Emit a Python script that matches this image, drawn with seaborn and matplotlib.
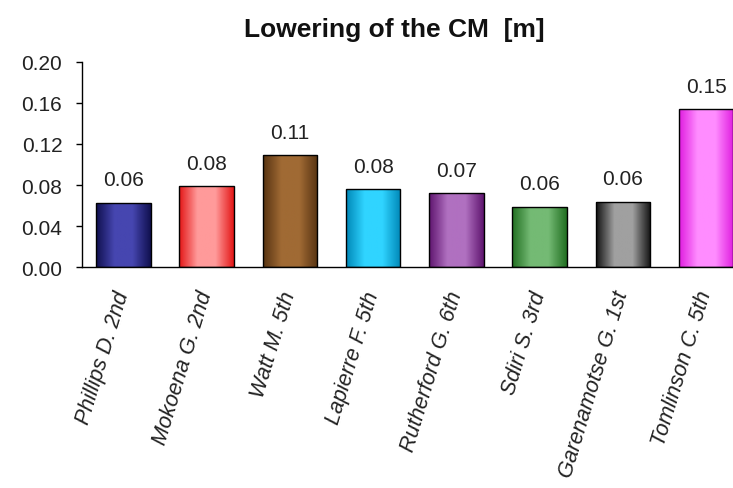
import numpy as np
import pandas as pd
import matplotlib
matplotlib.use("Agg")
import matplotlib.pyplot as plt
from matplotlib.colors import LinearSegmentedColormap
import seaborn as sns

athletes = ["Phillips D. 2nd", "Mokoena G. 2nd", "Watt M. 5th", "Lapierre F. 5th",
            "Rutherford G. 6th", "Sdiri S. 3rd", "Garenamotse G. 1st", "Tomlinson C. 5th"]
lowering = [0.063, 0.079, 0.109, 0.076, 0.072, 0.059, 0.064, 0.154]
edge_colors = ["#101050", "#e41818", "#583412", "#0088b8", "#601670", "#227022", "#141414", "#e01ee0"]
mid_colors = ["#4646b0", "#ff9a9a", "#a06a34", "#30d4ff", "#b070c0", "#74ba74", "#a0a0a0", "#ff8cff"]
yticks = [0.00, 0.04, 0.08, 0.12, 0.16, 0.20]

sns.set_theme(style="white")
plt.rcParams["font.family"] = ["Liberation Sans", "DejaVu Sans"]

df = pd.DataFrame({"athlete": athletes, "lowering": lowering})

fig = plt.figure(figsize=(7.33, 4.89), dpi=100)
ax = fig.add_axes([0.1115, 0.451, 0.9086, 0.421])

sns.barplot(data=df, x="athlete", y="lowering", hue="athlete", palette=edge_colors,
            legend=False, width=0.655, edgecolor="black", linewidth=1.0, ax=ax)

# shaded cylinder-style fill on each bar
profile = np.linspace(0, 1, 64)
for bar, c0, c1 in zip(ax.patches, edge_colors, mid_colors):
    cmap = LinearSegmentedColormap.from_list("shade", [c0, c1, c1, c0], N=256)
    x0, y0 = bar.get_x(), bar.get_y()
    w, h = bar.get_width(), bar.get_height()
    img = ax.imshow(profile[np.newaxis, :], cmap=cmap, aspect="auto",
                    extent=[x0, x0 + w, y0, y0 + h], zorder=bar.get_zorder() + 0.1)
    img.set_clip_path(bar)
    bar.set_facecolor("none")
    bar.set_zorder(bar.get_zorder() + 0.2)

for i, v in enumerate(lowering):
    ax.annotate(f"{v:.2f}", xy=(i, v), xytext=(0, 12.5), textcoords="offset points",
                ha="center", va="baseline", fontsize=15, color="#222222")

ax.set_xlim(-0.5, len(athletes) - 0.5)
ax.set_ylim(0, 0.20)
ax.set_yticks(yticks)
ax.set_yticklabels([f"{t:.2f}" for t in yticks], fontsize=15, color="#222222")
ax.set_xticks(np.arange(len(athletes)))
ax.set_xticklabels(athletes, rotation=73, ha="right", va="center", rotation_mode="anchor",
                   fontsize=15.5, style="italic", color="#222222")
ax.set_xticks(np.arange(len(athletes) + 1) - 0.5, minor=True)
ax.tick_params(axis="x", which="major", length=0, pad=17)
ax.tick_params(axis="x", which="minor", length=5, width=1, color="black", direction="out")
ax.tick_params(axis="y", length=4, width=1, color="black", direction="out", left=True, pad=10)
ax.set_xlabel("")
ax.set_ylabel("")
for s in ["top", "right"]:
    ax.spines[s].set_visible(False)
for s in ["left", "bottom"]:
    ax.spines[s].set_color("black")
    ax.spines[s].set_linewidth(1.0)

fig.text(394 / 733, 1 - 37.5 / 489, "Lowering of the CM  [m]", ha="center", va="baseline",
         fontsize=19, fontweight="bold", color="#111111")

fig.savefig("out.png", dpi=100, facecolor="white")
